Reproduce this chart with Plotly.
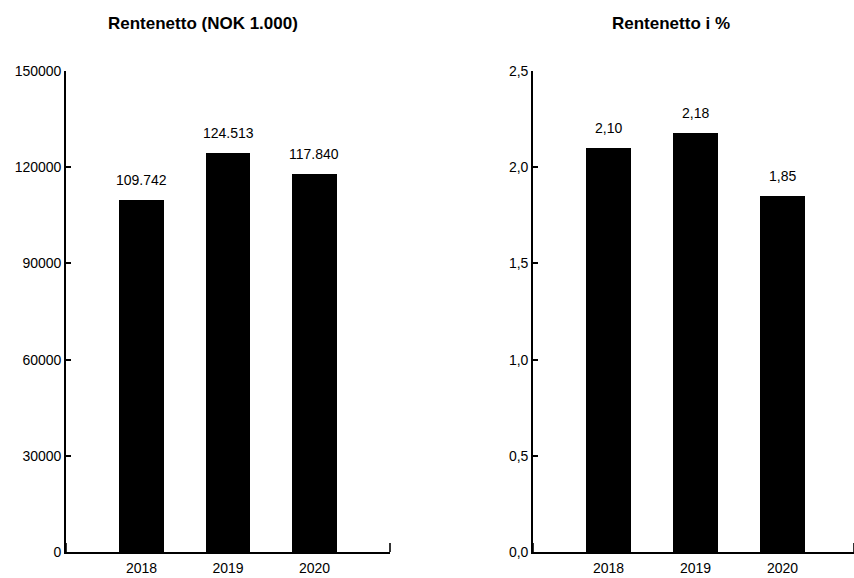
import plotly.graph_objects as go

years = ["2018", "2019", "2020"]
rentenetto_nok = [109742, 124513, 117840]      # NOK 1.000
rentenetto_pct = [2.10, 2.18, 1.85]            # prosent

left_ticks = [0, 30000, 60000, 90000, 120000, 150000]
right_ticks = [0.0, 0.5, 1.0, 1.5, 2.0, 2.5]

W, H = 854, 578
FONT = "Liberation Sans, Arial, Helvetica, sans-serif"

fig = go.Figure()
fig.add_trace(go.Bar(x=years, y=rentenetto_nok, width=0.51, marker_color="black",
                     marker_line_width=0, xaxis="x", yaxis="y", showlegend=False,
                     hoverinfo="skip"))
fig.add_trace(go.Bar(x=years, y=rentenetto_pct, width=0.51, marker_color="black",
                     marker_line_width=0, xaxis="x2", yaxis="y2", showlegend=False,
                     hoverinfo="skip"))

ydom = [1 - 552 / H, 1 - 71 / H]

axis_common = dict(showgrid=False, zeroline=False, showline=True, linecolor="black",
                   linewidth=1.6, automargin=False,
                   tickfont=dict(size=14, family=FONT, color="black"))

fig.update_layout(
    template="none",
    width=W, height=H,
    margin=dict(l=0, r=0, t=0, b=0, pad=0),
    plot_bgcolor="white", paper_bgcolor="white",
    separators=",.",
    bargap=0,
    xaxis=dict(domain=[66 / W, 390 / W], range=[-0.873, 2.873], type="category",
               anchor="y", ticks="outside", ticklen=2, tickcolor="rgba(0,0,0,0)",
               **axis_common),
    yaxis=dict(domain=ydom, range=[0, 150000], tickvals=left_ticks, tickformat="d",
               anchor="x", ticks="inside", ticklen=5, tickwidth=1.6, tickcolor="black",
               **axis_common),
    xaxis2=dict(domain=[533 / W, 1.0], range=[-0.868, 2.822], type="category",
                anchor="y2", ticks="outside", ticklen=2, tickcolor="rgba(0,0,0,0)",
                **axis_common),
    yaxis2=dict(domain=ydom, range=[0, 2.5], tickvals=right_ticks, tickformat=".1f",
                anchor="x2", ticks="inside", ticklen=5, tickwidth=1.6, tickcolor="black",
                **axis_common),
)

# Value labels above each bar (x given as category index)
for i, v in enumerate(rentenetto_nok):
    fig.add_annotation(x=i, y=v, xref="x", yref="y", text=f"{v:,}".replace(",", "."),
                       showarrow=False, xanchor="center", yanchor="middle", yshift=20,
                       font=dict(size=14, family=FONT, color="black"))
for i, v in enumerate(rentenetto_pct):
    fig.add_annotation(x=i, y=v, xref="x2", yref="y2", text=f"{v:.2f}".replace(".", ","),
                       showarrow=False, xanchor="center", yanchor="middle", yshift=20,
                       font=dict(size=14, family=FONT, color="black"))

# Panel titles
for cx, title in [(203, "Rentenetto (NOK 1.000)"), (671, "Rentenetto i %")]:
    fig.add_annotation(x=cx / W, y=1 - 23 / H, xref="paper", yref="paper",
                       text=f"<b>{title}</b>", showarrow=False,
                       xanchor="center", yanchor="middle",
                       font=dict(size=17, family=FONT, color="black"))

# Short upward end ticks on the x axes
for xr, yr in [("x domain", "y"), ("x2 domain", "y2")]:
    for xe in (0, 1):
        fig.add_shape(type="line", xref=xr, yref=yr, x0=xe, x1=xe,
                      ysizemode="pixel", yanchor=0, y0=0, y1=9,
                      line=dict(color="black", width=1.6))

fig.write_html("out.html")
